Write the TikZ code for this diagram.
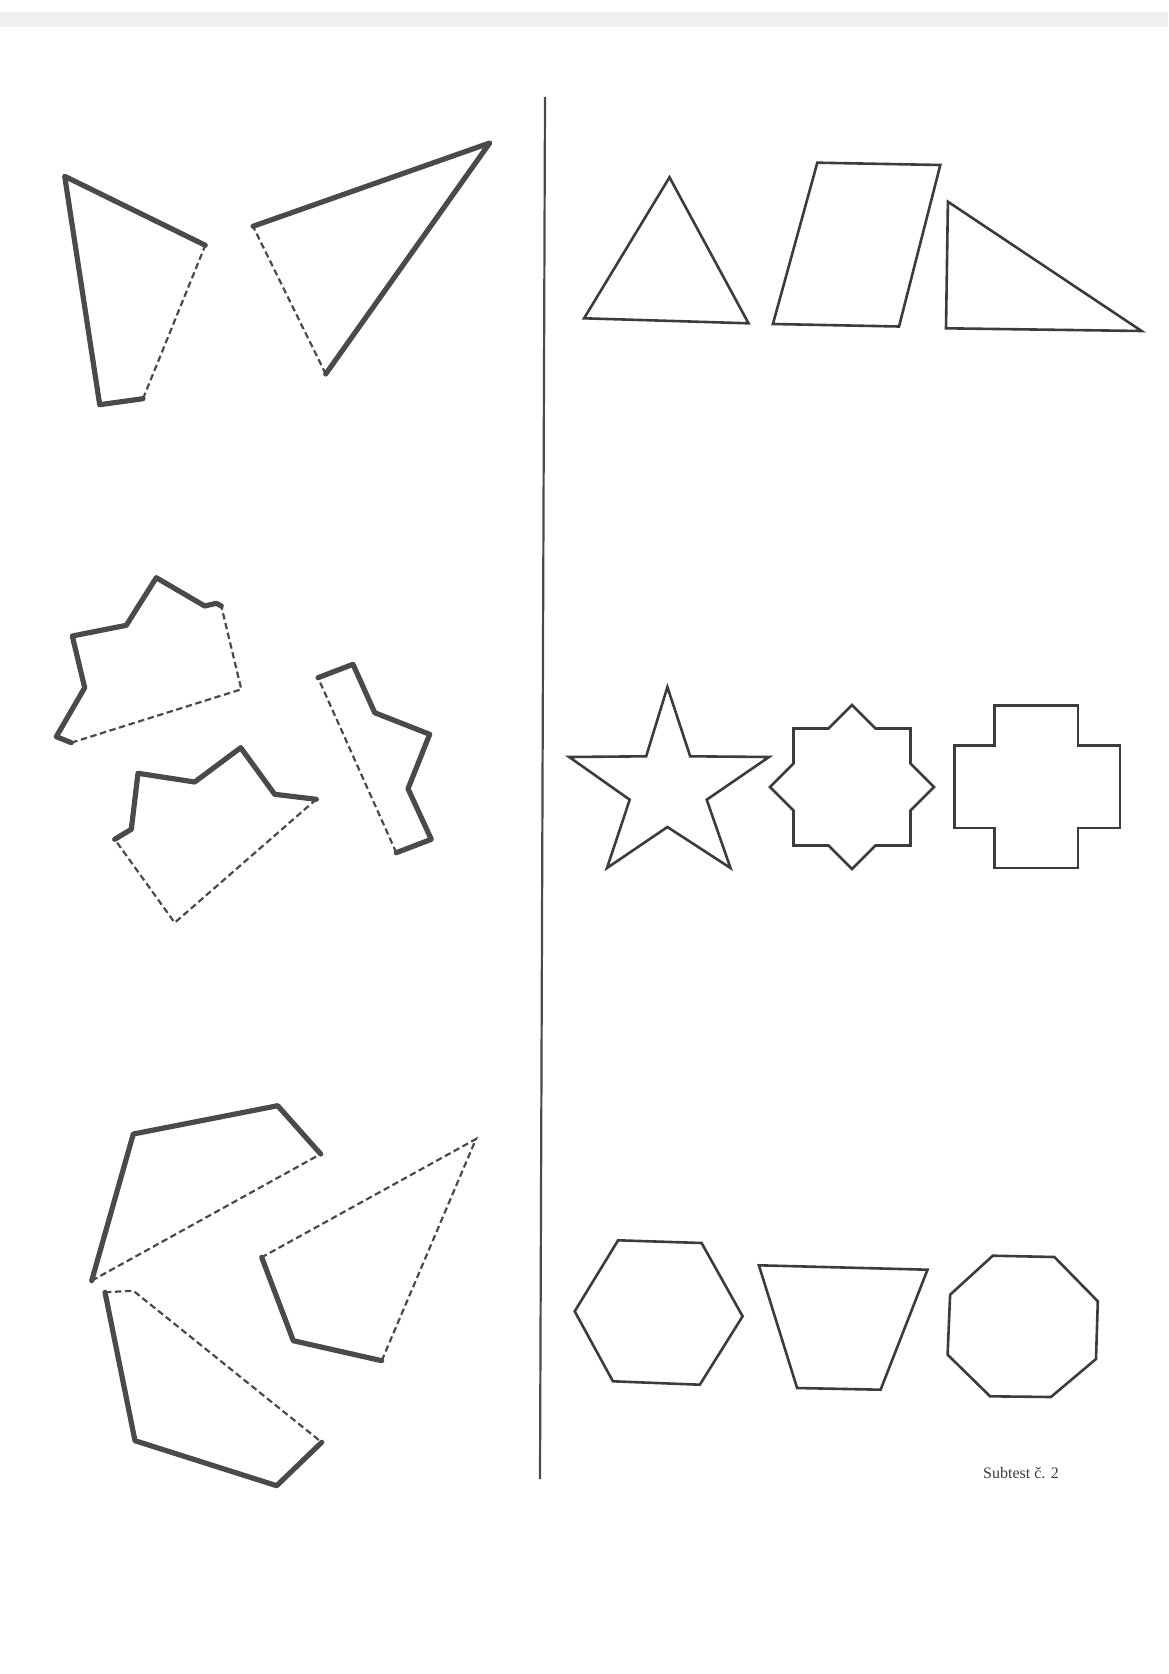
\documentclass[tikz,border=0pt]{standalone}
\usepackage{fontspec}
\setmainfont{Liberation Serif}
\definecolor{ink}{HTML}{4A4A4A}
\definecolor{ink2}{HTML}{3C3C3C}
\begin{document}
\begin{tikzpicture}[x=0.5pt,y=-0.5pt,
  solidedge/.style={draw=ink, line width=2.6pt, line join=round, line cap=round},
  dashedge/.style={draw=ink, line width=1.1pt, dash pattern=on 3.2pt off 1.8pt},
  figshape/.style={draw=ink2, line width=1.3pt, line join=miter},
  divider/.style={draw=ink, line width=1.1pt},
  scanband/.style={fill=black!6, draw=none},
  caption/.style={font=\fontsize{8}{9}\selectfont, text=ink2, anchor=base, inner sep=0pt}
]
\useasboundingbox (0,0) rectangle (1168,1674);
\fill[white] (0,0) rectangle (1168,1674);
\fill[scanband] (0,12) rectangle (1168,27);

% divider
\draw[divider] (545,97) -- (540,1479);

% ---------- left column, row 1 ----------
\draw[solidedge] (205.3,245.3) -- (64.7,176.3) -- (99.7,404.7) -- (143,398.7);
\draw[dashedge] (143,398.7) -- (205.3,245.3);

\draw[solidedge] (253,226.3) -- (489.7,143) -- (325.7,374);
\draw[dashedge] (325.7,374) -- (253,226.3);

% ---------- left column, row 2 ----------
\draw[solidedge] (221.3,606) -- (216.3,603.3) -- (204.7,606) -- (156.3,577.7) -- (126.3,625.3)
  -- (72.3,636) -- (84.7,687.7) -- (56.3,736.7) -- (71.3,742.7);
\draw[dashedge] (71.3,742.7) -- (241.3,689.3) -- (221.3,606);

\draw[solidedge] (114.7,839.3) -- (131.3,829.3) -- (138,773.3) -- (194.7,782) -- (240.7,747.7)
  -- (274.7,794.3) -- (316.3,799.3);
\draw[dashedge] (316.3,799.3) -- (174.7,922.7) -- (114.7,839.3);

\draw[solidedge] (318,677.7) -- (353,664.3) -- (374.7,712.7) -- (429.7,734.3) -- (408,788.7)
  -- (431.3,839.3) -- (396.3,852.7);
\draw[dashedge] (396.3,852.7) -- (318,677.7);

% ---------- left column, row 3 ----------
\draw[solidedge] (320.7,1154) -- (277.7,1105.7) -- (133.3,1134) -- (91.7,1280.7);
\draw[dashedge] (91.7,1280.7) -- (320.7,1154);

\draw[solidedge] (261.7,1257.3) -- (293.3,1340.7) -- (381.7,1360.7);
\draw[dashedge] (381.7,1360.7) -- (476,1139) -- (261.7,1257.3);

\draw[solidedge] (321.7,1442.3) -- (276.7,1485.7) -- (135,1440.7) -- (105,1292.3);
\draw[dashedge] (105,1292.3) -- (133.3,1290.7) -- (321.7,1442.3);

% ---------- right column, row 1 ----------
\draw[figshape] (669.5,177.3) -- (748.5,323.3) -- (584.1,318.3) -- cycle;
\draw[figshape] (817.3,162.7) -- (940.3,165) -- (899,326.5) -- (772.9,324) -- cycle;
\draw[figshape] (947.9,201.7) -- (1141.6,331) -- (946,328.3) -- cycle;

% ---------- right column, row 2 ----------
\draw[figshape] (667.4,687) -- (690.2,756.3) -- (769,757) -- (706.7,799.7) -- (730.5,868)
  -- (667.4,827) -- (607,868) -- (629.7,799.7) -- (569.2,757) -- (646.2,756.3) -- cycle;

\draw[figshape] (852,705) -- (875.5,728.5) -- (910.5,728.5) -- (910.5,763.5) -- (934,787)
  -- (910.5,810.5) -- (910.5,845.5) -- (875.5,845.5) -- (852,869) -- (828.5,845.5)
  -- (793.5,845.5) -- (793.5,810.5) -- (770,787) -- (793.5,763.5) -- (793.5,728.5)
  -- (828.5,728.5) -- cycle;

\draw[figshape] (994.5,705.7) -- (1077.8,705.7) -- (1077.8,745.7) -- (1120,745.7) -- (1120,828)
  -- (1077.8,828) -- (1077.8,868) -- (994.5,868) -- (994.5,828) -- (954.2,828)
  -- (954.2,745.7) -- (994.5,745.7) -- cycle;

% ---------- right column, row 3 ----------
\draw[figshape] (618.1,1240.3) -- (701.6,1243) -- (742.6,1316.3) -- (699.8,1384.7)
  -- (612.9,1381.3) -- (574.7,1311.3) -- cycle;
\draw[figshape] (758.9,1265.3) -- (927.5,1269.7) -- (880.6,1389.7) -- (797.1,1388) -- cycle;
\draw[figshape] (992.8,1255.7) -- (1054.4,1257) -- (1097.8,1301.3) -- (1096,1359)
  -- (1050.9,1397) -- (990.1,1396.3) -- (947.6,1354.7) -- (950.1,1294.7) -- cycle;

\node[caption] (label) at (1021,1478) {Subtest č. 2};
\end{tikzpicture}
\end{document}
